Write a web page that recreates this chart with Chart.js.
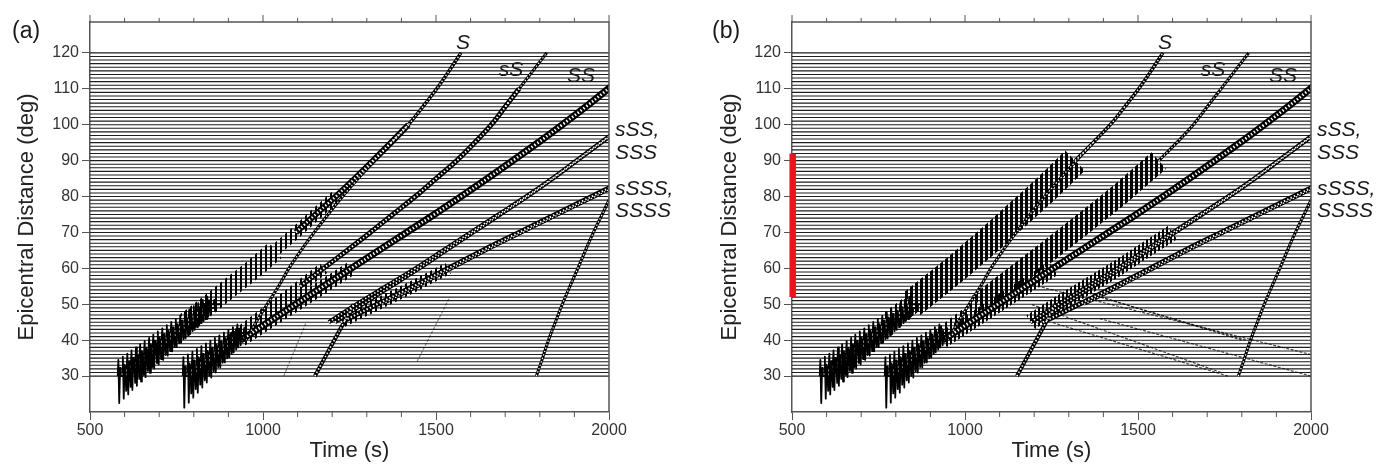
<!DOCTYPE html>
<html>
<head>
<meta charset="utf-8">
<script src="https://cdn.jsdelivr.net/npm/chart.js@4.4.0/dist/chart.umd.min.js"></script>
<style>
  body { margin: 0; background: #fff; width: 1377px; height: 464px; overflow: hidden; position: relative; }
  canvas { position: absolute; top: 0; }
  #panelA { left: 0; }
  #panelB { left: 690px; }
</style>
</head>
<body>
<canvas id="panelA" width="690" height="464"></canvas>
<canvas id="panelB" width="687" height="464"></canvas>
<script>
const traceDist = [30,31,32,33,34,35,36,37,38,39,40,41,42,43,44,45,46,47,48,49,50,51,52,53,54,55,56,57,58,59,60,
  61,62,63,64,65,66,67,68,69,70,71,72,73,74,75,76,77,78,79,80,81,82,83,84,85,86,87,88,89,90,
  91,92,93,94,95,96,97,98,99,100,101,102,103,104,105,106,107,108,109,110,111,112,113,114,115,116,117,118,119,120];
const traceStart = 500;
const traceEnd = 2000;

const timeTicks = [500, 1000, 1500, 2000];
const timeMinorTicks = [600, 700, 800, 900, 1100, 1200, 1300, 1400, 1600, 1700, 1800, 1900];
const distTicks = [30, 40, 50, 60, 70, 80, 90, 100, 110, 120];

// travel time picks (s) at these distances (deg)
const phaseDist = [30, 35, 40, 45, 50, 55, 60, 65, 70, 75, 80, 85, 90, 95, 100, 105, 110, 115, 120];
const sTime    = [590, 650, 712, 778, 845, 910, 975, 1035, 1095, 1152, 1210, 1265, 1318, 1370, 1420, 1462, 1502, 1538, 1572];
const sSTime   = [775, 840, 905, 972, 1040, 1108, 1175, 1243, 1310, 1375, 1440, 1500, 1560, 1612, 1660, 1700, 1740, 1780, 1820];
const scsTime  = [null, null, 950, 980, 1012, 1045, 1075, 1110, 1148, 1188, 1230, 1275, 1322, 1370, null, null, null, null, null];
const ssTime   = [null, 850, 935, 1015, 1095, 1175, 1255, 1335, 1415, 1495, 1572, 1648, 1722, 1795, 1865, 1933, 1998, 2060, null];
const sSSTime  = [null, null, null, 1190, 1270, 1355, 1440, 1520, 1600, 1680, 1760, 1835, 1905, 1975, 2045, null, null, null, null];
const sssTime  = [null, null, null, 1208, 1288, 1370, 1452, 1530, 1608, 1686, 1764, 1838, 1908, 1978, 2048, null, null, null, null];
const sSSSTime = [null, null, null, 1225, 1330, 1435, 1535, 1635, 1740, 1845, 1950, 2055, null, null, null, null, null, null, null];
const ssssTime = [null, null, null, 1240, 1344, 1448, 1547, 1646, 1750, 1855, 1960, 2065, null, null, null, null, null, null, null];
const gTime    = [1150, 1178, 1206, 1234, 1262, null, null, null, null, null, null, null, null, null, null, null, null, null, null];
const fTime    = [1790, 1808, 1825, 1845, 1865, 1887, 1910, 1932, 1955, 1980, 2005, null, null, null, null, null, null, null, null];

// large near-distance wiggles, one wave train per trace
const sSpikeDist  = [30, 31, 32, 33, 34, 35, 36, 37, 38, 39, 40, 41, 42, 43, 44, 45, 46, 47, 48, 49, 50];
const sSpikeTime  = [580, 593, 606, 618, 631, 643, 656, 669, 681, 694, 707, 720, 733, 746, 759, 772, 785, 798, 811, 824, 837];
const sSpikeDepth = [7.5, 7.3, 7.1, 6.9, 6.7, 6.5, 6.3, 6.1, 5.9, 5.7, 5.5, 5.3, 5.1, 4.9, 4.7, 4.5, 4.3, 4.1, 3.9, 3.7, 3.5];
const sSSpikeDist  = [30, 31, 32, 33, 34, 35, 36, 37, 38, 39, 40, 41, 42];
const sSSpikeTime  = [768, 781, 794, 807, 820, 833, 846, 859, 872, 885, 898, 911, 924];
const sSSpikeDepth = [8.8, 8.4, 8, 7.6, 7.2, 6.8, 6.4, 6, 5.6, 5.2, 4.8, 4.4, 4];
const waveletLag   = [0, 2, 4.5, 7, 9, 20, 22, 24.5, 27, 40];
const waveletShape = [0, 0.6, -1, 0.3, 0, 0, 0.35, -0.55, 0, 0];

// weaker arrivals
const faintA = [
  { dist: [34, 52], time: [1445, 1540] },
  { dist: [30, 45], time: [1060, 1125] }
];
const reversedB = [
  { dist: [36, 56], time: [2000, 1170] },
  { dist: [40, 53], time: [1800, 1360] },
  { dist: [31, 50], time: [1740, 1190] },
  { dist: [30, 46], time: [2000, 1390] },
  { dist: [40, 52], time: [1812, 1390] },
  { dist: [30, 45], time: [1760, 1250] }
];

const redBarTime = 502;
const redBarDist = [52, 92];

const phaseLabels = [
  { text: 'S', t: 1578, d: 122.8, align: 'center' },
  { text: 'sS', t: 1717, d: 115.3, align: 'center' },
  { text: 'SS', t: 1919, d: 113.5, align: 'center' },
  { text: 'sSS,', t: 2017, d: 98.5, align: 'left' },
  { text: 'SSS', t: 2017, d: 92.1, align: 'left' },
  { text: 'sSSS,', t: 2017, d: 82.1, align: 'left' },
  { text: 'SSSS', t: 2017, d: 76.0, align: 'left' }
];

const phases = {
  S: sTime, sS: sSTime, ScS: scsTime, SS: ssTime, sSS: sSSTime, SSS: sssTime,
  sSSS: sSSSTime, SSSS: ssssTime, G: gTime, F: fTime
};

const family = '"Liberation Sans", Arial, sans-serif';

function phasePoints(name, lo, hi) {
  const time = phases[name];
  const out = [];
  phaseDist.forEach(function (d, i) {
    if (time[i] != null && d >= lo && d <= hi) out.push({ x: time[i], y: d });
  });
  return out;
}

function tracePoints() {
  const pts = [];
  traceDist.forEach(function (d) {
    pts.push({ x: traceStart, y: d }, { x: traceEnd, y: d }, { x: traceEnd, y: null });
  });
  return pts;
}

function spikePoints(dist, time, depth) {
  const pts = [];
  dist.forEach(function (d, i) {
    waveletLag.forEach(function (lag, k) {
      pts.push({ x: time[i] + lag, y: d + waveletShape[k] * depth[i] });
    });
    pts.push({ x: time[i], y: null });
  });
  return pts;
}

function stripes(ctx, ink, gap) {
  const c = document.createElement('canvas');
  c.width = ink + gap;
  c.height = 8;
  const g = c.getContext('2d');
  g.fillStyle = '#000';
  g.fillRect(0, 0, ink, 8);
  return ctx.createPattern(c, 'repeat');
}

const lineBase = { pointRadius: 0, fill: false, tension: 0.35, borderCapStyle: 'butt', borderJoinStyle: 'round' };

function segmentSets(ctx, seg) {
  const pts = phasePoints(seg.phase, seg.from, seg.to);
  if (seg.kind === 'band') {
    return [Object.assign({}, lineBase, {
      data: pts, borderColor: stripes(ctx, seg.ink, seg.gap), borderWidth: seg.width, order: 6
    })];
  }
  return [
    Object.assign({}, lineBase, { data: pts, borderColor: '#000', borderWidth: seg.width, order: 4 }),
    Object.assign({}, lineBase, {
      data: pts, borderColor: '#fff', borderWidth: Math.max(0.8, seg.width * 0.4),
      borderDash: [1.4, 2.2], order: 3
    })
  ];
}

const segmentsA = [
  { phase: 'S', from: 45, to: 65, kind: 'band', width: 20, ink: 2, gap: 3 },
  { phase: 'S', from: 60, to: 80, kind: 'band', width: 12, ink: 2, gap: 3 },
  { phase: 'S', from: 70, to: 100, kind: 'chain', width: 6 },
  { phase: 'S', from: 95, to: 120, kind: 'chain', width: 3.5 },
  { phase: 'ScS', from: 40, to: 95, kind: 'chain', width: 3 },
  { phase: 'sS', from: 40, to: 60, kind: 'band', width: 12, ink: 2, gap: 3 },
  { phase: 'sS', from: 55, to: 110, kind: 'chain', width: 5 },
  { phase: 'sS', from: 105, to: 120, kind: 'chain', width: 3 },
  { phase: 'SS', from: 40, to: 60, kind: 'band', width: 14, ink: 2, gap: 3 },
  { phase: 'SS', from: 40, to: 115, kind: 'chain', width: 7 },
  { phase: 'sSS', from: 45, to: 100, kind: 'chain', width: 4 },
  { phase: 'SSS', from: 45, to: 100, kind: 'chain', width: 4 },
  { phase: 'sSSS', from: 45, to: 60, kind: 'band', width: 12, ink: 2, gap: 3 },
  { phase: 'sSSS', from: 45, to: 85, kind: 'chain', width: 5 },
  { phase: 'SSSS', from: 50, to: 85, kind: 'chain', width: 3 },
  { phase: 'G', from: 30, to: 50, kind: 'chain', width: 4 },
  { phase: 'F', from: 30, to: 80, kind: 'chain', width: 3 }
];

const segmentsB = [
  { phase: 'S', from: 45, to: 55, kind: 'band', width: 20, ink: 2, gap: 3 },
  { phase: 'S', from: 50, to: 90, kind: 'band', width: 28, ink: 3, gap: 2 },
  { phase: 'S', from: 90, to: 120, kind: 'chain', width: 3.5 },
  { phase: 'ScS', from: 40, to: 95, kind: 'chain', width: 3 },
  { phase: 'sS', from: 40, to: 50, kind: 'band', width: 12, ink: 2, gap: 3 },
  { phase: 'sS', from: 50, to: 90, kind: 'band', width: 22, ink: 3, gap: 2 },
  { phase: 'sS', from: 90, to: 120, kind: 'chain', width: 3 },
  { phase: 'SS', from: 40, to: 60, kind: 'band', width: 16, ink: 2, gap: 2 },
  { phase: 'SS', from: 40, to: 115, kind: 'chain', width: 7 },
  { phase: 'sSS', from: 45, to: 70, kind: 'band', width: 16, ink: 2, gap: 2 },
  { phase: 'sSS', from: 45, to: 100, kind: 'chain', width: 4 },
  { phase: 'SSS', from: 45, to: 100, kind: 'chain', width: 4 },
  { phase: 'sSSS', from: 45, to: 85, kind: 'chain', width: 5 },
  { phase: 'SSSS', from: 50, to: 85, kind: 'chain', width: 3 },
  { phase: 'G', from: 30, to: 50, kind: 'chain', width: 4 },
  { phase: 'F', from: 30, to: 80, kind: 'chain', width: 3 }
];

const decorPlugin = {
  id: 'decor',
  afterDraw(chart, args, opts) {
    const ctx = chart.ctx;
    const a = chart.chartArea;
    const x = chart.scales.x;
    const y = chart.scales.y;
    ctx.save();
    ctx.strokeStyle = '#555';
    ctx.lineWidth = 1.5;
    ctx.beginPath();
    ctx.moveTo(a.left, a.top);
    ctx.lineTo(a.right, a.top);
    ctx.lineTo(a.right, a.bottom);
    ctx.stroke();
    ctx.lineWidth = 1;
    ctx.beginPath();
    timeTicks.forEach(function (v) {
      const px = x.getPixelForValue(v);
      ctx.moveTo(px, a.top); ctx.lineTo(px, a.top - 7);
    });
    timeMinorTicks.forEach(function (v) {
      const px = x.getPixelForValue(v);
      ctx.moveTo(px, a.top); ctx.lineTo(px, a.top - 4);
      ctx.moveTo(px, a.bottom); ctx.lineTo(px, a.bottom + 5);
    });
    ctx.stroke();

    ctx.fillStyle = '#1a1a1a';
    ctx.textBaseline = 'middle';
    ctx.font = 'italic 21px ' + family;
    phaseLabels.forEach(function (l) {
      ctx.textAlign = l.align;
      ctx.fillText(l.text, x.getPixelForValue(l.t), y.getPixelForValue(l.d));
    });
    ctx.textAlign = 'left';
    ctx.font = '23px ' + family;
    ctx.fillText(opts.letter, opts.letterX, 32);
    ctx.restore();
  }
};

function plainLabel(v) { return String(v); }

function buildPanel(id, cfg) {
  const canvas = document.getElementById(id);
  const ctx = canvas.getContext('2d');
  const datasets = [];

  datasets.push(Object.assign({}, lineBase, {
    data: tracePoints(), borderColor: '#1e1e1e', borderWidth: 1.1, tension: 0, order: 20
  }));
  cfg.segments.forEach(function (seg) {
    segmentSets(ctx, seg).forEach(function (ds) { datasets.push(ds); });
  });
  datasets.push(Object.assign({}, lineBase, {
    data: spikePoints(sSpikeDist, sSpikeTime, sSpikeDepth), borderColor: '#000', borderWidth: 1.8, tension: 0, order: 2
  }));
  datasets.push(Object.assign({}, lineBase, {
    data: spikePoints(sSSpikeDist, sSSpikeTime, sSSpikeDepth), borderColor: '#000', borderWidth: 1.8, tension: 0, order: 2
  }));
  cfg.faint.forEach(function (f) {
    datasets.push(Object.assign({}, lineBase, {
      data: f.dist.map(function (d, i) { return { x: f.time[i], y: d }; }),
      borderColor: cfg.faintColor, borderWidth: 1.2, borderDash: [3, 1.5], tension: 0, order: 8
    }));
  });
  if (cfg.redBar) {
    datasets.push(Object.assign({}, lineBase, {
      data: redBarDist.map(function (d) { return { x: redBarTime, y: d }; }),
      borderColor: '#e8161c', borderWidth: 6.5, tension: 0, clip: false, order: 0
    }));
  }

  return new Chart(canvas, {
    type: 'line',
    data: { datasets: datasets },
    options: {
      responsive: false,
      animation: false,
      events: [],
      layout: { padding: { top: 22, right: cfg.padRight, left: 0, bottom: 0 } },
      plugins: {
        legend: { display: false },
        tooltip: { enabled: false },
        decor: { letter: cfg.letter, letterX: cfg.letterX }
      },
      scales: {
        x: {
          type: 'linear', min: 500, max: 2000, position: 'bottom',
          afterBuildTicks: function (s) { s.ticks = timeTicks.map(function (v) { return { value: v }; }); },
          afterFit: function (s) { s.height = 52; },
          grid: { drawOnChartArea: false, tickLength: 8, color: '#555', tickWidth: 1 },
          border: { color: '#555', width: 1.5 },
          ticks: { color: '#333', font: { size: 16, family: family }, padding: 1, maxRotation: 0, autoSkip: false, callback: plainLabel },
          title: { display: true, text: 'Time (s)', color: '#222', font: { size: 22, family: family }, padding: { top: 0, bottom: 0 } }
        },
        y: {
          type: 'linear', min: 20, max: 128.6, position: 'left',
          afterBuildTicks: function (s) { s.ticks = distTicks.map(function (v) { return { value: v }; }); },
          afterFit: function (s) { s.width = cfg.axisWidth; },
          grid: { drawOnChartArea: false, tickLength: 8, color: '#555', tickWidth: 1 },
          border: { color: '#555', width: 1.5 },
          ticks: { color: '#333', font: { size: 16, family: family }, padding: 3, autoSkip: false, callback: plainLabel },
          title: { display: true, text: 'Epicentral Distance (deg)', color: '#222', font: { size: 22, family: family }, padding: { top: cfg.titlePad, bottom: 0 } }
        }
      }
    },
    plugins: [decorPlugin]
  });
}

buildPanel('panelA', { segments: segmentsA, faint: faintA, faintColor: 'rgba(0,0,0,0.45)', redBar: false, padRight: 81, axisWidth: 90, titlePad: 14, letter: '(a)', letterX: 12 });
buildPanel('panelB', { segments: segmentsB, faint: reversedB, faintColor: 'rgba(0,0,0,0.7)', redBar: true, padRight: 66, axisWidth: 102, titlePad: 27, letter: '(b)', letterX: 22 });
</script>
</body>
</html>
